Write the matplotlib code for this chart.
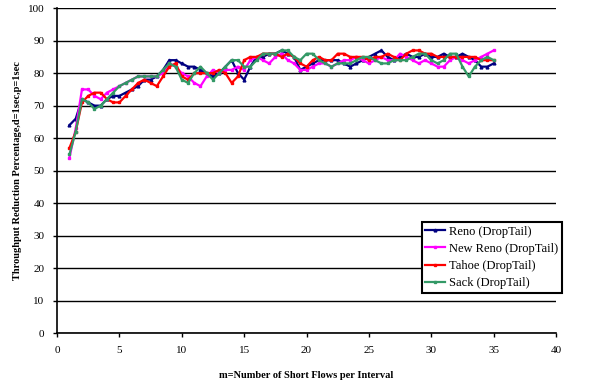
import numpy as np
import matplotlib
matplotlib.use("Agg")
import matplotlib.pyplot as plt

x = [1 + 0.5 * i for i in range(69)]

reno = [64, 66, 72, 71, 70, 70, 72, 73, 73, 74, 75, 76, 78, 78, 79, 81, 84, 84, 83, 82,
        82, 81, 80, 79, 80, 82, 84, 80, 78, 82, 85, 85, 86, 86, 87, 86, 85, 81, 82, 83,
        84, 84, 84, 84, 83, 82, 83, 84, 85, 86, 87, 85, 84, 85, 86, 85, 85, 86, 85, 85,
        86, 85, 85, 86, 85, 84, 82, 82, 83]
newreno = [54, 63, 75, 75, 73, 72, 74, 75, 76, 77, 78, 79, 79, 79, 79, 80, 83, 82, 80, 79,
           77, 76, 79, 81, 80, 81, 81, 82, 81, 84, 85, 84, 83, 85, 86, 84, 83, 81, 81, 82,
           83, 83, 82, 83, 84, 84, 85, 84, 83, 84, 85, 84, 84, 86, 85, 84, 83, 84, 83, 82,
           82, 84, 85, 84, 83, 84, 85, 86, 87]
tahoe = [57, 62, 71, 73, 74, 74, 72, 71, 71, 73, 75, 77, 78, 77, 76, 79, 82, 83, 79, 78,
         80, 80, 80, 80, 81, 80, 77, 79, 84, 85, 85, 86, 86, 86, 85, 86, 85, 83, 82, 84,
         85, 84, 84, 86, 86, 85, 85, 85, 84, 85, 85, 86, 85, 84, 86, 87, 87, 86, 86, 85,
         85, 85, 85, 85, 85, 85, 84, 84, 84]
sack = [55, 62, 72, 71, 69, 70, 72, 74, 76, 77, 78, 79, 79, 79, 79, 81, 83, 82, 78, 77,
        80, 82, 80, 78, 80, 82, 84, 84, 82, 82, 84, 86, 86, 86, 87, 87, 85, 84, 86, 86,
        84, 83, 82, 83, 83, 83, 84, 85, 85, 84, 83, 83, 84, 84, 84, 85, 86, 86, 84, 83,
        84, 86, 86, 82, 79, 82, 84, 85, 84]

labels = ["Reno (DropTail)", "New Reno (DropTail)", "Tahoe (DropTail)", "Sack (DropTail)"]
colors = ["#000080", "#FF00FF", "#FF0000", "#339966"]
markers = ["^", "s", "s", "s"]
series = [reno, newreno, tahoe, sack]

xticks = [0, 5, 10, 15, 20, 25, 30, 35, 40]
yticks = [0, 10, 20, 30, 40, 50, 60, 70, 80, 90, 100]

plt.rcParams['font.family'] = ['Liberation Serif', 'DejaVu Serif']

fig = plt.figure(figsize=(5.92, 3.9), dpi=100)
ax = fig.add_axes([0.0963, 0.146, 0.843, 0.833])

for ys, lab, c, m in zip(series, labels, colors, markers):
    ax.plot(x, ys, color=c, lw=1.6, marker=m, markersize=2, label=lab)

ax.set_xlim(0, 40)
ax.set_ylim(0, 100)
ax.set_xticks(xticks)
ax.set_yticks(yticks)
ax.tick_params(labelsize=8, direction='out', length=3, width=1, pad=6)
ax.yaxis.grid(True, color='black', lw=1)
ax.set_axisbelow(True)
for s in ['top', 'right']:
    ax.spines[s].set_visible(False)
for s in ['left', 'bottom']:
    ax.spines[s].set_linewidth(1.2)

ax.set_xlabel("m=Number of Short Flows per Interval", fontsize=7.5, fontweight='bold', labelpad=12)
ax.set_ylabel("Throughput Reduction Percentage,d=1sec,p=1sec", fontsize=7.5, fontweight='bold', labelpad=4)

leg = ax.legend(loc='lower right', bbox_to_anchor=(1.012, 0.123), fontsize=9, frameon=True,
                fancybox=False, edgecolor='black', framealpha=1, borderpad=0.3,
                labelspacing=0.42, handlelength=1.6, handletextpad=0.3, borderaxespad=0)
leg.get_frame().set_linewidth(1.5)

fig.savefig("out.png", dpi=100)
